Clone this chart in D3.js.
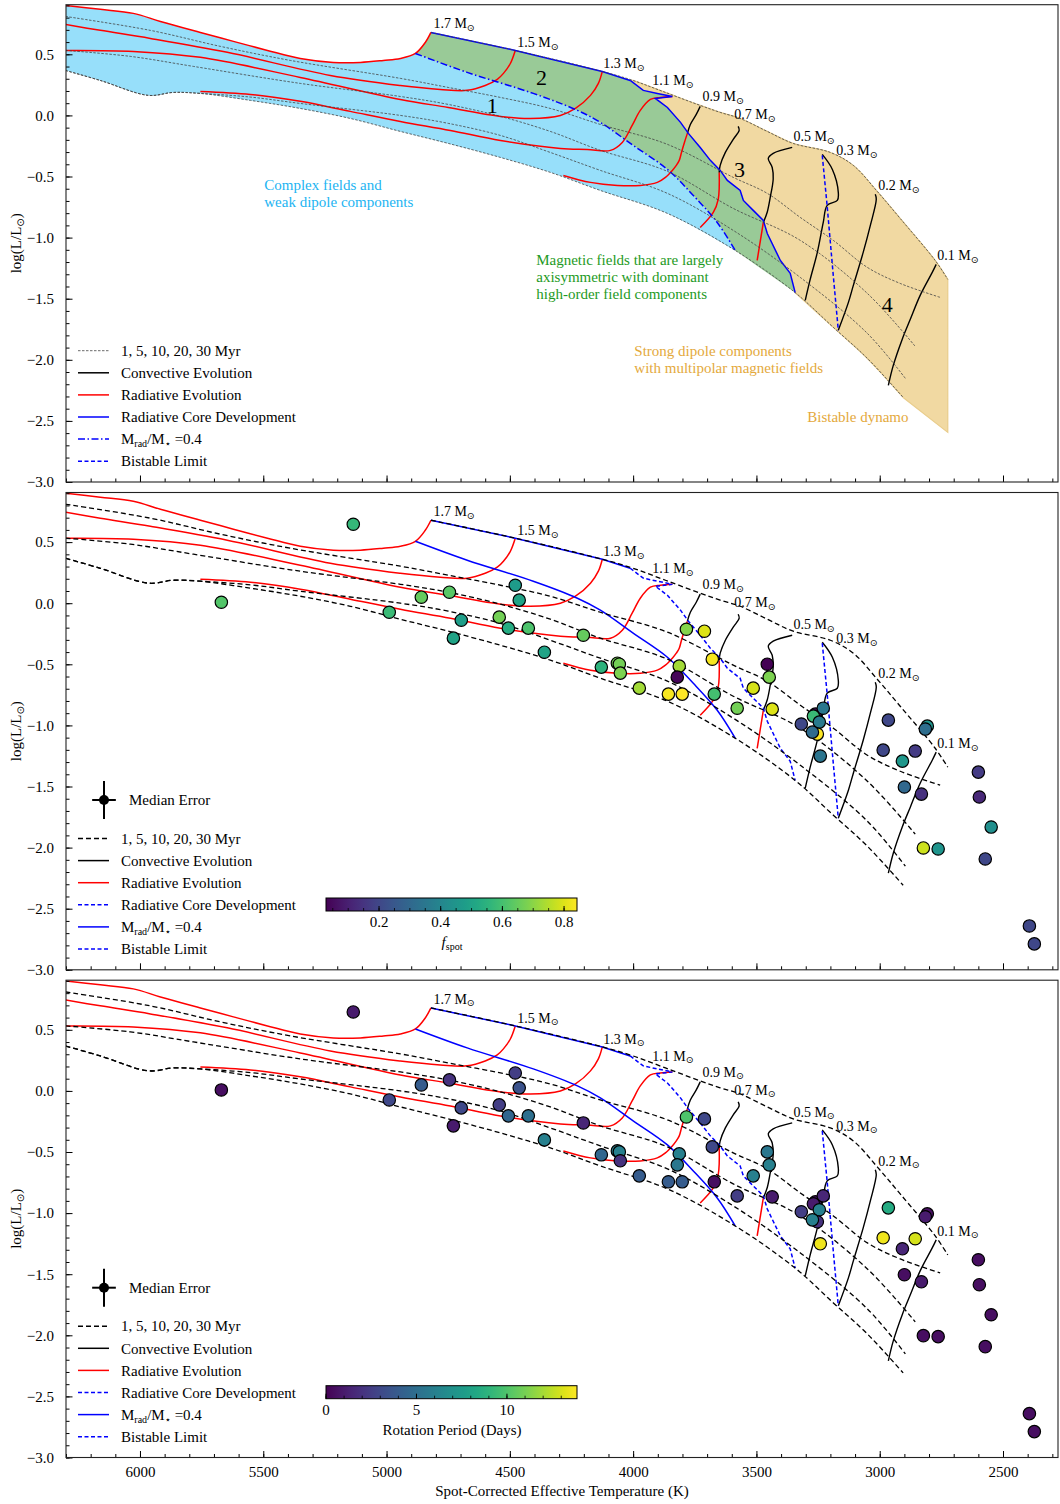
<!DOCTYPE html>
<html>
<head>
<meta charset="utf-8">
<script src="https://cdn.jsdelivr.net/npm/d3@7/dist/d3.min.js"></script>
<style>
html,body{margin:0;padding:0;background:#fff;}
svg{display:block;}
text{font-family:"Liberation Serif","Times New Roman",Times,serif;fill:#000;}
</style>
</head>
<body>
<svg id="chart" width="1060" height="1504"></svg>
<script>
// ================= DATA =================
const xDomain = [6300, 2277];
const yDomain = [-3.0, 0.906];
const xMajorTicks = [6000,5500,5000,4500,4000,3500,3000,2500];
const xMinorTicks = d3.range(2300, 6301, 100);
const yMajorTicks = [-3.0,-2.5,-2.0,-1.5,-1.0,-0.5,0.0,0.5];
const yMinorTicks = d3.range(-30, 10, 1).map(v => v/10);

// Radiative (red) evolutionary tracks  [Teff, logL]
const track17Upper = [[4820,0.679],[4843,0.597],[4883,0.507]];
const track17Lower = [[4883,0.507],[4944,0.466],[5013,0.450],[5106,0.434],[5216,0.434],[5350,0.466],[5483,0.532],[5621,0.606],[5755,0.679],[5917,0.769],[6027,0.835],[6161,0.868],[6302,0.900]];
const track15 = [[4478,0.532],[4498,0.425],[4526,0.344],[4551,0.295],[4600,0.245],[4673,0.205],[4782,0.213],[4944,0.245],[5228,0.327],[5646,0.516],[5958,0.630],[6161,0.696],[6302,0.745]];
const track13 = [[4125,0.360],[4141,0.262],[4173,0.164],[4234,0.057],[4295,0.000],[4417,-0.025],[4538,-0.008],[4750,0.065],[4944,0.131],[5350,0.311],[5755,0.475],[6027,0.524],[6302,0.532]];
const track11 = [[3841,0.155],[3890,0.147],[3930,0.131],[3971,0.041],[4004,-0.082],[4044,-0.221],[4092,-0.286],[4186,-0.278],[4295,-0.270],[4538,-0.205],[4741,-0.123],[4944,-0.049],[5147,0.033],[5350,0.115],[5552,0.172],[5755,0.196]];
const rad09 = [[3780,-0.147],[3792,-0.221],[3804,-0.303],[3813,-0.368],[3825,-0.409],[3841,-0.450],[3869,-0.507],[3902,-0.548],[3971,-0.573],[4064,-0.573],[4173,-0.548],[4283,-0.491]];
const rad07 = [[3651,-0.466],[3655,-0.687],[3675,-0.794],[3728,-0.917]];
const rad05 = [[3472,-0.876],[3497,-1.187]];
// Convective (black) tracks
const conv09 = [[3728,0.074],[3744,0.008],[3768,-0.074],[3780,-0.147]];
const conv07 = [[3574,-0.090],[3570,-0.123],[3594,-0.196],[3626,-0.303],[3647,-0.409],[3651,-0.466]];
const conv05 = [[3355,-0.262],[3432,-0.311],[3452,-0.352],[3436,-0.426],[3432,-0.520],[3444,-0.671],[3456,-0.790],[3472,-0.876]];
const conv03 = [[3233,-0.319],[3192,-0.442],[3168,-0.630],[3172,-0.696],[3213,-0.736],[3229,-0.876],[3253,-1.121],[3282,-1.342],[3302,-1.514]];
const conv02 = [[3018,-0.646],[3014,-0.687],[3038,-0.900],[3067,-1.121],[3107,-1.391],[3127,-1.530],[3168,-1.759]];
const conv01 = [[2771,-1.219],[2787,-1.285],[2836,-1.473],[2876,-1.669],[2909,-1.833],[2945,-2.046],[2965,-2.209]];
// Blue lines
const rcdTop = [[4820,0.679],[4478,0.532],[4125,0.360],[4012,0.286]];
const rcdLower = [[4012,0.286],[3959,0.205],[3902,0.180],[3841,0.155],[3910,0.139],[3861,0.065],[3808,-0.057],[3776,-0.147],[3728,-0.262],[3687,-0.368],[3647,-0.450],[3618,-0.532],[3566,-0.614],[3553,-0.696],[3513,-0.777],[3472,-0.859],[3456,-0.966],[3403,-1.187],[3363,-1.293],[3343,-1.45]];
const mrad04 = [[4883,0.507],[4673,0.352],[4405,0.180],[4226,0.041],[4133,-0.057],[4000,-0.245],[3861,-0.442],[3756,-0.655],[3659,-0.876],[3586,-1.105]];
const bistable = [[3233,-0.327],[3213,-0.745],[3188,-1.318],[3168,-1.759]];
// Isochrones 1, 5, 10, 20, 30 Myr
const iso1 = [[4820,0.679],[4478,0.532],[4125,0.360],[4000,0.286],[3869,0.188],[3728,0.082],[3647,0.025],[3566,-0.025],[3456,-0.131],[3351,-0.229],[3200,-0.303],[3107,-0.409],[3010,-0.622],[2917,-0.843],[2775,-1.187],[2724,-1.342]];
const iso5 = [[6302,0.810],[5958,0.696],[5674,0.565],[5390,0.450],[4944,0.303],[4750,0.229],[4538,0.147],[4336,0.057],[4133,-0.074],[3861,-0.237],[3594,-0.507],[3456,-0.638],[3322,-0.835],[3188,-1.023],[3050,-1.244],[2917,-1.375],[2755,-1.489]];
const iso10 = [[6302,0.532],[6039,0.483],[5783,0.401],[5350,0.262],[4944,0.155],[4750,0.090],[4538,-0.008],[4336,-0.131],[4133,-0.286],[3861,-0.458],[3594,-0.761],[3322,-1.023],[3050,-1.457],[2856,-1.890]];
const iso20 = [[6302,0.368],[6161,0.286],[5966,0.164],[5865,0.188],[5755,0.180],[5552,0.150],[5350,0.098],[4944,0.000],[4750,-0.065],[4538,-0.164],[4336,-0.303],[4133,-0.450],[3861,-0.638],[3594,-0.941],[3322,-1.326],[3050,-1.784],[2896,-2.152]];
const iso30 = [[6302,0.368],[6161,0.286],[5966,0.164],[5865,0.188],[5755,0.180],[5552,0.123],[5350,0.057],[5147,-0.025],[4944,-0.131],[4750,-0.229],[4538,-0.344],[4336,-0.466],[4133,-0.614],[3861,-0.802],[3586,-1.105],[3343,-1.45],[3188,-1.735],[3050,-1.989],[2905,-2.308]];
const tanCorner = [[2724,-2.594],[2724,-1.342]];

// Mass labels (anchor Teff, logL)
const massNames = ["1.7","1.5","1.3","1.1","0.9","0.7","0.5","0.3","0.2","0.1"];
const massLabelT = [4810,4470,4121,3922,3719,3590,3350,3176,3006,2767];
const massLabelL = [0.712,0.556,0.385,0.245,0.114,-0.033,-0.213,-0.327,-0.614,-1.187];

// Region numbers
const regionNames = ["1","2","3","4"];
const regionT = [4571,4372,3569,2969];
const regionL = [0.016,0.245,-0.507,-1.612];

// Annotations
const noteBlue = ["Complex fields and","weak dipole components"];
const noteGreen = ["Magnetic fields that are largely","axisymmetric with dominant","high-order field components"];
const noteTan = ["Strong dipole components","with multipolar magnetic fields"];
const noteBistable = "Bistable dynamo";

// Stars
const teff = [5135,5670,4989,4859,4745,4478,4462,4697,4543,4506,4425,4729,4202,4360,4129,4064,4056,4052,3975,3784,3711,3813,3821,3857,3801,3679,3671,3578,3513,3456,3448,3436,3318,3261,3269,3245,3229,3253,3273,3241,2965,2986,2856,2908,2807,2815,2900,2831,2600,2596,2548,2572,2823,2763,2393,2373];
const logL = [0.646,0.008,-0.074,0.049,0.090,0.147,0.025,-0.139,-0.114,-0.204,-0.204,-0.286,-0.262,-0.401,-0.523,-0.491,-0.499,-0.572,-0.695,-0.213,-0.229,-0.515,-0.605,-0.744,-0.744,-0.458,-0.744,-0.859,-0.695,-0.499,-0.605,-0.867,-0.989,-0.908,-0.924,-0.973,-0.859,-1.071,-1.055,-1.251,-0.957,-1.202,-1.210,-1.292,-1.006,-1.030,-1.504,-1.562,-1.382,-1.586,-1.832,-2.093,-2.003,-2.011,-2.641,-2.788];
const fspot = [0.57,0.62,0.58,0.65,0.63,0.47,0.50,0.48,0.67,0.53,0.61,0.50,0.65,0.50,0.55,0.67,0.67,0.68,0.73,0.69,0.80,0.73,0.04,0.83,0.84,0.83,0.60,0.67,0.79,0.03,0.68,0.80,0.20,0.05,0.58,0.36,0.35,0.84,0.31,0.34,0.20,0.20,0.17,0.46,0.45,0.32,0.30,0.14,0.17,0.12,0.43,0.20,0.78,0.45,0.20,0.20];
const prot = [1.0,0.5,3.0,4.0,2.0,2.5,3.5,3.0,2.5,4.5,5.0,1.0,1.5,6.0,4.5,6.0,6.0,2.0,4.0,10.0,3.0,6.0,5.5,4.0,4.0,3.0,0.5,2.5,6.0,5.5,6.0,1.0,2.5,0.5,1.0,6.0,1.5,2.0,6.0,13.5,8.5,13.5,13.0,1.5,0.5,1.0,0.5,1.0,0.5,0.5,0.5,0.5,0.5,0.5,0.5,0.5];
const medianErrT = 48, medianErrL = 0.155;

const fspotRange = [0.028, 0.842];
const fspotTicks = [0.2,0.4,0.6,0.8];
const fspotMinor = d3.range(1,17).map(v=>v*0.05);
const protRange = [0, 13.87];
const protTicks = [0,5,10];
const protMinor = d3.range(0,14,1);

// ================= LAYOUT =================
const left = 66, right = 1058;
const panelTops = [4.7, 492.5, 980.2];
const panelH = 477.3;
const FS = 15;
const C = {red:"#ff0000", blue:"#0000ff", black:"#000", regBlue:"#97dffa", regGreen:"#99ca97", regTan:"#f1d9a2",
  txtBlue:"#22b4f2", txtGreen:"#1e9a24", txtTan:"#e4a93c"};

const svg = d3.select("#chart");
const defs = svg.append("defs");
const x = d3.scaleLinear().domain(xDomain).range([left, right]);
const rev = a => a.slice().reverse();
const idxT = (arr, T) => arr.findIndex(p => p[0] === T);
function joinPath(parts){ return parts.map((s,i)=> i ? s.replace(/^M/,"L") : s).join("") + "Z"; }

function grad(id){
  const g = defs.append("linearGradient").attr("id", id).attr("x1","0%").attr("x2","100%").attr("y1","0%").attr("y2","0%");
  d3.range(0,1.0001,0.05).forEach(t => g.append("stop").attr("offset", (t*100)+"%").attr("stop-color", d3.interpolateViridis(t)));
}
grad("viridisGrad");

const cF = d3.scaleSequential(d3.interpolateViridis).domain(fspotRange);
const cP = d3.scaleSequential(d3.interpolateViridis).domain(protRange);
const stars = teff.map((t,i)=>({T:t, L:logL[i], f:fspot[i], p:prot[i]}));

panelTops.forEach((top, pi) => {
  const y = d3.scaleLinear().domain(yDomain).range([top + panelH, top]);
  const smooth = d3.line().x(d=>x(d[0])).y(d=>y(d[1])).curve(d3.curveCatmullRom.alpha(0.5));
  const lin = d3.line().x(d=>x(d[0])).y(d=>y(d[1]));
  defs.append("clipPath").attr("id","clip"+pi).append("rect")
    .attr("x",left).attr("y",top).attr("width",right-left).attr("height",panelH);
  const g = svg.append("g");
  const plot = g.append("g").attr("clip-path",`url(#clip${pi})`);

  const iMr = idxT(iso30, 3586), iRc = idxT(iso30, 3343), i1s = idxT(iso1, 4000);
  if (pi === 0) {
    const blue = joinPath([smooth(rev(track17Lower)), smooth(mrad04), smooth(rev(iso30.slice(0, iMr+1)))]);
    const green = joinPath([lin(rcdTop), lin(rcdLower), smooth(rev(iso30.slice(iMr, iRc+1))), smooth(rev(mrad04)), smooth(rev(track17Upper))]);
    const tan = joinPath([lin(rcdLower), smooth(iso30.slice(iRc)), lin([iso30[iso30.length-1]].concat(tanCorner)), smooth(rev(iso1.slice(i1s)))]);
    plot.append("path").attr("d", blue).attr("fill", C.regBlue);
    plot.append("path").attr("d", green).attr("fill", C.regGreen);
    plot.append("path").attr("d", tan).attr("fill", C.regTan).attr("stroke","#e9cd8c").attr("stroke-width",1.2);
  }

  [track17Upper.concat(track17Lower.slice(1)), track15, track13, track11, rad09, rad07, rad05].forEach(t =>
    plot.append("path").attr("d", smooth(t)).attr("fill","none").attr("stroke",C.red).attr("stroke-width",1.5));
  [conv09, conv07, conv05, conv03, conv02, conv01].forEach(t =>
    plot.append("path").attr("d", smooth(t)).attr("fill","none").attr("stroke",C.black).attr("stroke-width",1.4));
  plot.append("path").attr("d", lin(rcdTop)).attr("fill","none").attr("stroke",C.blue).attr("stroke-width",1.5);
  plot.append("path").attr("d", lin(rcdLower)).attr("fill","none").attr("stroke",C.blue).attr("stroke-width",1.5)
    .attr("stroke-dasharray", pi===0 ? null : "4,2.5");
  plot.append("path").attr("d", smooth(mrad04)).attr("fill","none").attr("stroke",C.blue).attr("stroke-width",1.5)
    .attr("stroke-dasharray", pi===0 ? "7,2.5,1.5,2.5" : null);
  plot.append("path").attr("d", lin(bistable)).attr("fill","none").attr("stroke",C.blue).attr("stroke-width",1.5)
    .attr("stroke-dasharray","4,2.5");
  [iso1, iso5, iso10, iso20, iso30].forEach(t =>
    plot.append("path").attr("d", smooth(t)).attr("fill","none")
      .attr("stroke", pi===0 ? "#444" : "#000")
      .attr("stroke-width", pi===0 ? 0.8 : 1.3)
      .attr("stroke-dasharray", pi===0 ? "2.5,1.5" : "5,3"));

  massNames.forEach((m,i) => {
    const t = g.append("text").attr("x", x(massLabelT[i])).attr("y", y(massLabelL[i])).attr("font-size",14);
    t.append("tspan").text(m + " M");
    t.append("tspan").attr("font-size",9.5).attr("dy",2.5).attr("font-family","DejaVu Sans").text("\u2299");
  });

  if (pi === 0) {
    regionNames.forEach((r,i) => g.append("text").attr("x", x(regionT[i])).attr("y", y(regionL[i]))
      .attr("text-anchor","middle").attr("font-size",22).text(r));
    const note = (lines, T, L0, col) => lines.forEach((s,k) => g.append("text")
      .attr("x", x(T)).attr("y", y(L0) + k*17).attr("font-size",FS).style("fill", col).text(s));
    note(noteBlue, 5496, -0.614, C.txtBlue);
    note(noteGreen, 4393, -1.227, C.txtGreen);
    note(noteTan, 3995, -1.972, C.txtTan);
    note([noteBistable], 3294, -2.512, C.txtTan);
  } else {
    const col = pi === 1 ? (d => cF(d.f)) : (d => cP(d.p));
    plot.selectAll("circle.star").data(stars).enter().append("circle").attr("class","star")
      .attr("cx", d => x(d.T)).attr("cy", d => y(d.L)).attr("r", 6.2)
      .attr("fill", col).attr("stroke","#000").attr("stroke-width",1.2);
  }

  // ---------- legend ----------
  const lg = g.append("g");
  const rowY = k => top + 346 + k*22.1;
  const lx1 = 78, lx2 = 109, tx = 121;
  const styles = pi === 0 ? [
    {c:"#444", w:0.8, d:"2.5,1.5"}, {c:"#000", w:1.5, d:null}, {c:C.red, w:1.5, d:null},
    {c:C.blue, w:1.5, d:null}, {c:C.blue, w:1.5, d:"7,2.5,1.5,2.5"}, {c:C.blue, w:1.5, d:"4,2.5"}
  ] : [
    {c:"#000", w:1.4, d:"5,3"}, {c:"#000", w:1.5, d:null}, {c:C.red, w:1.5, d:null},
    {c:C.blue, w:1.5, d:"4,2.5"}, {c:C.blue, w:1.5, d:null}, {c:C.blue, w:1.5, d:"4,2.5"}
  ];
  const names = ["1, 5, 10, 20, 30 Myr","Convective Evolution","Radiative Evolution","Radiative Core Development",null,"Bistable Limit"];
  styles.forEach((s,k) => {
    lg.append("line").attr("x1",lx1).attr("x2",lx2).attr("y1",rowY(k)).attr("y2",rowY(k))
      .attr("stroke",s.c).attr("stroke-width",s.w).attr("stroke-dasharray",s.d);
    const t = lg.append("text").attr("x",tx).attr("y",rowY(k)).attr("dy","0.35em").attr("font-size",FS);
    if (names[k]) t.text(names[k]);
    else {
      t.append("tspan").text("M");
      t.append("tspan").attr("font-size",10).attr("dy",3).text("rad");
      t.append("tspan").attr("dy",-3).text("/M");
      t.append("tspan").attr("font-size",10).attr("dy",3).attr("font-family","DejaVu Sans").text("\u22C6");
      t.append("tspan").attr("dy",-3).text(" =0.4");
    }
  });
  if (pi > 0) {
    const cx = 104, cy = top + 307.5;
    const dx = Math.abs(x(4000) - x(4000 + medianErrT));
    const dy = Math.abs(y(0) - y(medianErrL));
    lg.append("line").attr("x1",cx-dx).attr("x2",cx+dx).attr("y1",cy).attr("y2",cy).attr("stroke","#000").attr("stroke-width",2);
    lg.append("line").attr("x1",cx).attr("x2",cx).attr("y1",cy-dy).attr("y2",cy+dy).attr("stroke","#000").attr("stroke-width",2);
    lg.append("circle").attr("cx",cx).attr("cy",cy).attr("r",5).attr("fill","#000");
    lg.append("text").attr("x",129).attr("y",cy).attr("dy","0.35em").attr("font-size",FS).text("Median Error");

    const by = top + 405.5, bh = 13;
    const range = pi === 1 ? fspotRange : protRange;
    const cb = d3.scaleLinear().domain(range).range([326, 577]);
    g.append("rect").attr("x",326).attr("y",by).attr("width",251).attr("height",bh).attr("fill","url(#viridisGrad)")
      .attr("stroke","#000").attr("stroke-width",1);
    const maj = pi === 1 ? fspotTicks : protTicks;
    const mnr = (pi === 1 ? fspotMinor : protMinor).filter(v => v >= range[0] && v <= range[1]);
    mnr.forEach(v => g.append("line").attr("x1",cb(v)).attr("x2",cb(v)).attr("y1",by+bh).attr("y2",by+bh-3)
      .attr("stroke","#000").attr("stroke-width",0.8));
    maj.forEach(v => {
      g.append("line").attr("x1",cb(v)).attr("x2",cb(v)).attr("y1",by+bh).attr("y2",by+bh-5).attr("stroke","#000").attr("stroke-width",1);
      g.append("text").attr("x",cb(v)).attr("y",by+bh+16).attr("text-anchor","middle").attr("font-size",FS)
        .text(pi === 1 ? d3.format(".1f")(v) : v);
    });
    if (pi === 1) {
      const t = g.append("text").attr("x",452).attr("y",by+bh+36).attr("text-anchor","middle").attr("font-size",FS);
      t.append("tspan").attr("font-style","italic").text("f");
      t.append("tspan").attr("font-size",10).attr("dy",3).text("spot");
    } else {
      g.append("text").attr("x",452).attr("y",by+bh+36).attr("text-anchor","middle").attr("font-size",FS).text("Rotation Period (Days)");
    }
  }

  // ---------- axes ----------
  const bottom = top + panelH;
  const ax = g.append("g").attr("transform",`translate(0,${bottom})`);
  ax.call(d3.axisBottom(x).tickValues(xMinorTicks).tickSize(-3.5).tickFormat(""));
  const axM = g.append("g").attr("transform",`translate(0,${bottom})`);
  axM.call(d3.axisBottom(x).tickValues(xMajorTicks).tickSize(-6.5).tickPadding(8.5)
    .tickFormat(pi === 2 ? d3.format("d") : ""));
  const ay = g.append("g").attr("transform",`translate(${left},0)`);
  ay.call(d3.axisLeft(y).tickValues(yMinorTicks).tickSize(-3.5).tickFormat(""));
  const ayM = g.append("g").attr("transform",`translate(${left},0)`);
  ayM.call(d3.axisLeft(y).tickValues(yMajorTicks).tickSize(-6.5).tickPadding(12).tickFormat(d3.format(".1f")));
  [ax, axM, ay, ayM].forEach(a => {
    a.select(".domain").remove();
    a.selectAll("text").attr("font-size",FS).attr("font-family",'"Liberation Serif","Times New Roman",serif').style("fill","#000");
    a.selectAll("line").attr("stroke","#000");
  });
  g.append("rect").attr("x",left).attr("y",top).attr("width",right-left).attr("height",panelH)
    .attr("fill","none").attr("stroke","#222").attr("stroke-width",1.1);

  const yl = g.append("text").attr("transform",`translate(21,${top+panelH/2}) rotate(-90)`).attr("text-anchor","middle").attr("font-size",FS);
  yl.append("tspan").text("log(L/L");
  yl.append("tspan").attr("font-size",10).attr("dy",3).attr("font-family","DejaVu Sans").text("\u2299");
  yl.append("tspan").attr("dy",-3).text(")");
});

svg.append("text").attr("x",(left+right)/2).attr("y",1496).attr("text-anchor","middle").attr("font-size",FS)
  .text("Spot-Corrected Effective Temperature (K)");
</script>
</body>
</html>
